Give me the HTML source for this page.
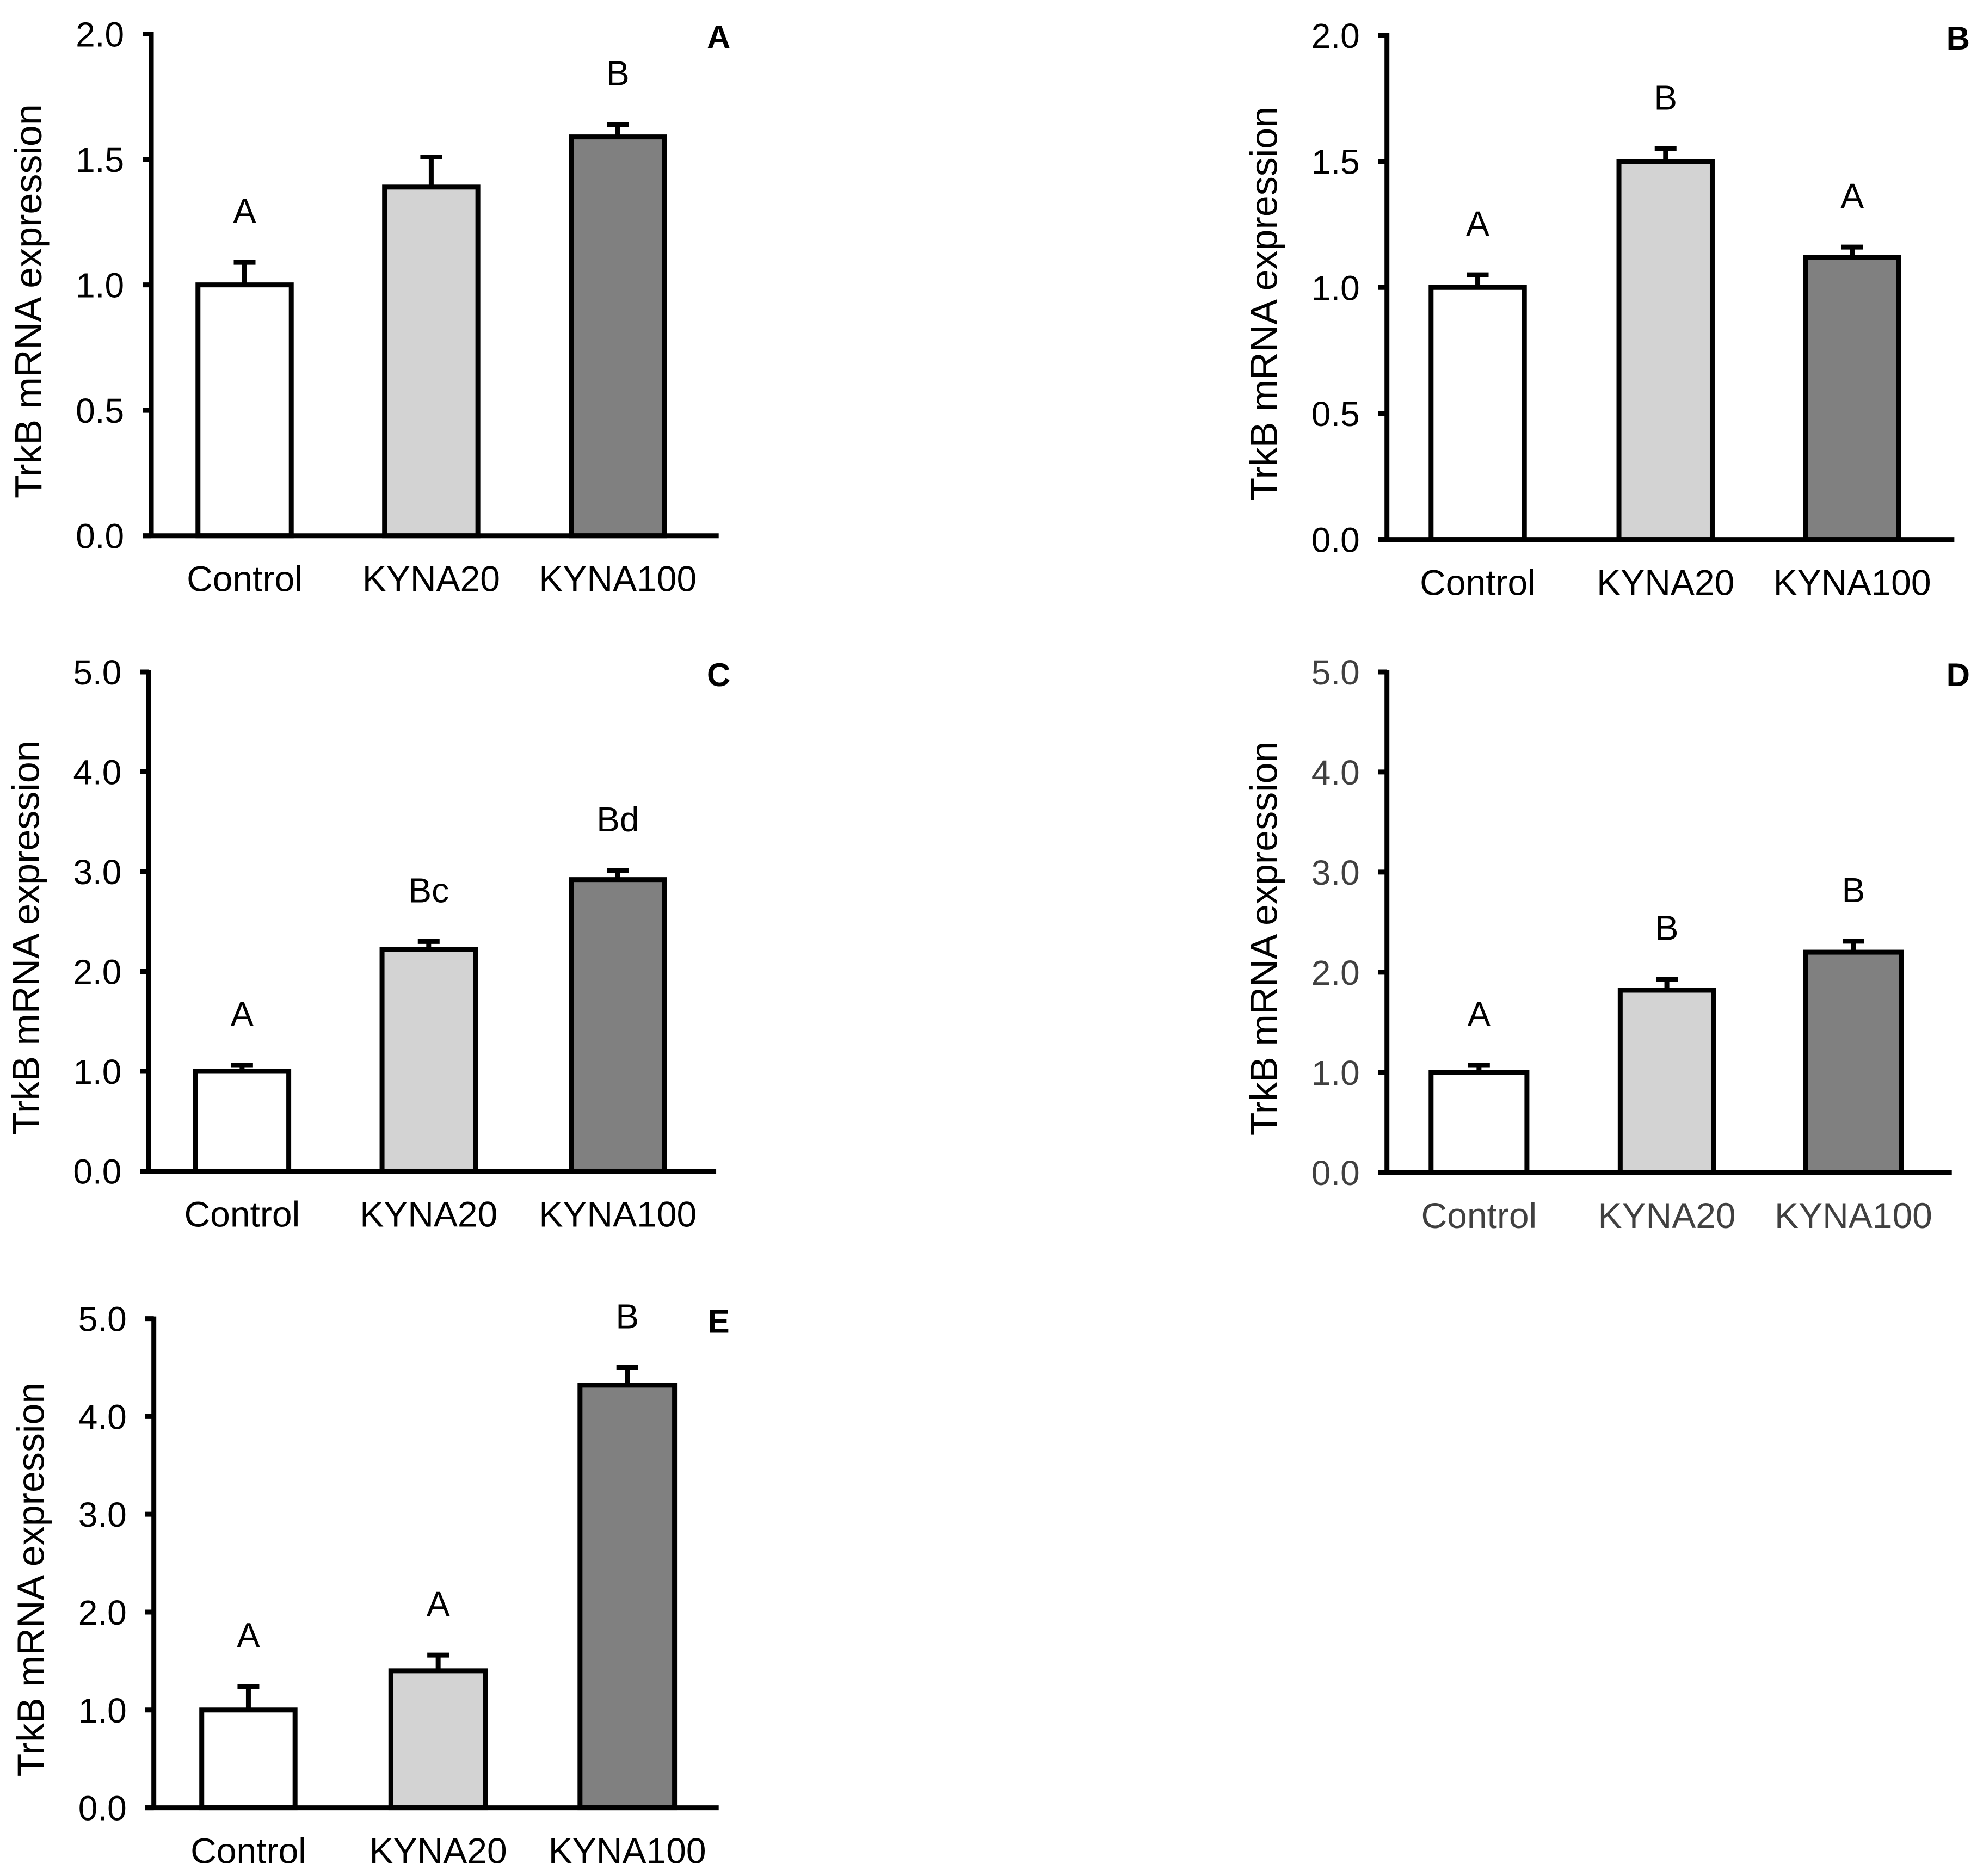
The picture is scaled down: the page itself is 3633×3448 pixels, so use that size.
<!DOCTYPE html>
<html><head><meta charset="utf-8">
<style>
html,body{margin:0;padding:0;background:#fff;}
svg{display:block;font-family:"Liberation Sans",Arial,sans-serif;}
</style></head>
<body>
<svg id="fig" width="3633" height="3448" viewBox="0 0 3633 3448" xmlns="http://www.w3.org/2000/svg"></svg>
<script>
const categories = ["Control", "KYNA20", "KYNA100"];
const valuesA = [1.0, 1.39, 1.59];
const errorsA = [0.09, 0.12, 0.05];
const lettersA = ["A", "", "B"];
const valuesB = [1.0, 1.50, 1.12];
const errorsB = [0.05, 0.05, 0.04];
const lettersB = ["A", "B", "A"];
const valuesC = [1.0, 2.22, 2.92];
const errorsC = [0.06, 0.08, 0.09];
const lettersC = ["A", "Bc", "Bd"];
const valuesD = [1.0, 1.82, 2.20];
const errorsD = [0.07, 0.11, 0.11];
const lettersD = ["A", "B", "B"];
const valuesE = [1.0, 1.40, 4.32];
const errorsE = [0.24, 0.16, 0.18];
const lettersE = ["A", "A", "B"];
const ticks2 = ["0.0", "0.5", "1.0", "1.5", "2.0"];
const ticks5 = ["0.0", "1.0", "2.0", "3.0", "4.0", "5.0"];

const S = 2.317;
const NS = "http://www.w3.org/2000/svg";
const svg = document.getElementById("fig");
const fills = ["#ffffff", "#d3d3d3", "#808080"];

function mk(tag, attrs, parent) {
  const e = document.createElementNS(NS, tag);
  for (const k in attrs) e.setAttribute(k, attrs[k]);
  parent.appendChild(e);
  return e;
}

const panels = [
  {id:"a", label:"A", ax:120, top:27, bot:425, right:570, bars:[[157,231],[305,379],[453,527]], vals:valuesA, errs:errorsA, lets:lettersA, ymax:2, ticks:ticks2, tickColor:"#000", lx:570},
  {id:"b", label:"B", ax:1100, top:28, bot:428, right:1550, bars:[[1135,1209],[1284,1358],[1432,1506]], vals:valuesB, errs:errorsB, lets:lettersB, ymax:2, ticks:ticks2, tickColor:"#000", lx:1553},
  {id:"c", label:"C", ax:118, top:533, bot:929, right:568, bars:[[155,229],[303,377],[453,527]], vals:valuesC, errs:errorsC, lets:lettersC, ymax:5, ticks:ticks5, tickColor:"#000", lx:570},
  {id:"d", label:"D", ax:1100, top:533, bot:930, right:1548, bars:[[1135,1211],[1285,1359],[1432,1508]], vals:valuesD, errs:errorsD, lets:lettersD, ymax:5, ticks:ticks5, tickColor:"#404040", lx:1553},
  {id:"e", label:"E", ax:122, top:1046, bot:1434, right:570, bars:[[160,234],[310,385],[460,535]], vals:valuesE, errs:errorsE, lets:lettersE, ymax:5, ticks:ticks5, tickColor:"#000", lx:570}
];

panels.forEach(p => {
  const g = mk("g", {}, svg);
  
  
  const ax = p.ax*S, top = p.top*S, bot = p.bot*S, right = p.right*S;
  const y = v => bot - (v / p.ymax) * (bot - top);
  p.vals.forEach((v, i) => {
    const x0 = p.bars[i][0]*S, x1 = p.bars[i][1]*S, xc = (x0+x1)/2;
    const ey = y(v + p.errs[i]);
    const el = mk("line", {x1:xc, x2:xc, y1:y(v), y2:ey, stroke:"#000", "stroke-width":9}, g);
    
    
    const cap = mk("line", {x1:xc-20, x2:xc+20, y1:ey, y2:ey, stroke:"#000", "stroke-width":9}, g);
    
    
    const r = mk("rect", {x:x0, y:y(v), width:x1-x0, height:bot-y(v), fill:fills[i], stroke:"#000", "stroke-width":9}, g);
    
    
    if (p.lets[i]) {
      const t = mk("text", {x:xc, y:ey - 72, "text-anchor":"middle", "font-size":64, fill:"#000"}, g);
      t.textContent = p.lets[i];
      
      
    }
    const c = mk("text", {x:xc, y:bot + 102, "text-anchor":"middle", "font-size":66, fill:p.tickColor}, g);
    c.textContent = categories[i];
    
    
  });
  const ya = mk("line", {x1:ax, x2:ax, y1:top-4, y2:bot+4, stroke:"#000", "stroke-width":9}, g);
  
  
  const xa = mk("line", {x1:ax-16, x2:right, y1:bot, y2:bot, stroke:"#000", "stroke-width":9}, g);
  
  
  p.ticks.forEach(tl => {
    const ty = y(parseFloat(tl));
    const tk = mk("line", {x1:ax-16, x2:ax, y1:ty, y2:ty, stroke:"#000", "stroke-width":9}, g);
    
    
    const t = mk("text", {x:ax-50, y:ty+23, "text-anchor":"end", "font-size":64, fill:p.tickColor}, g);
    t.textContent = tl;
    
    
  });
  const ymid = (top+bot)/2 + 30;
  const tt = mk("text", {x:0, y:0, "text-anchor":"middle", "font-size":70, fill:"#000", transform:`translate(${ax-202},${ymid}) rotate(-90)`}, g);
  tt.textContent = "TrkB mRNA expression";
  
  
  const pl = mk("text", {x:p.lx*S, y:top+26, "text-anchor":"middle", "font-size":60, "font-weight":"bold", fill:"#000"}, g);
  pl.textContent = p.label;
  
  
});
</script>
</body></html>
